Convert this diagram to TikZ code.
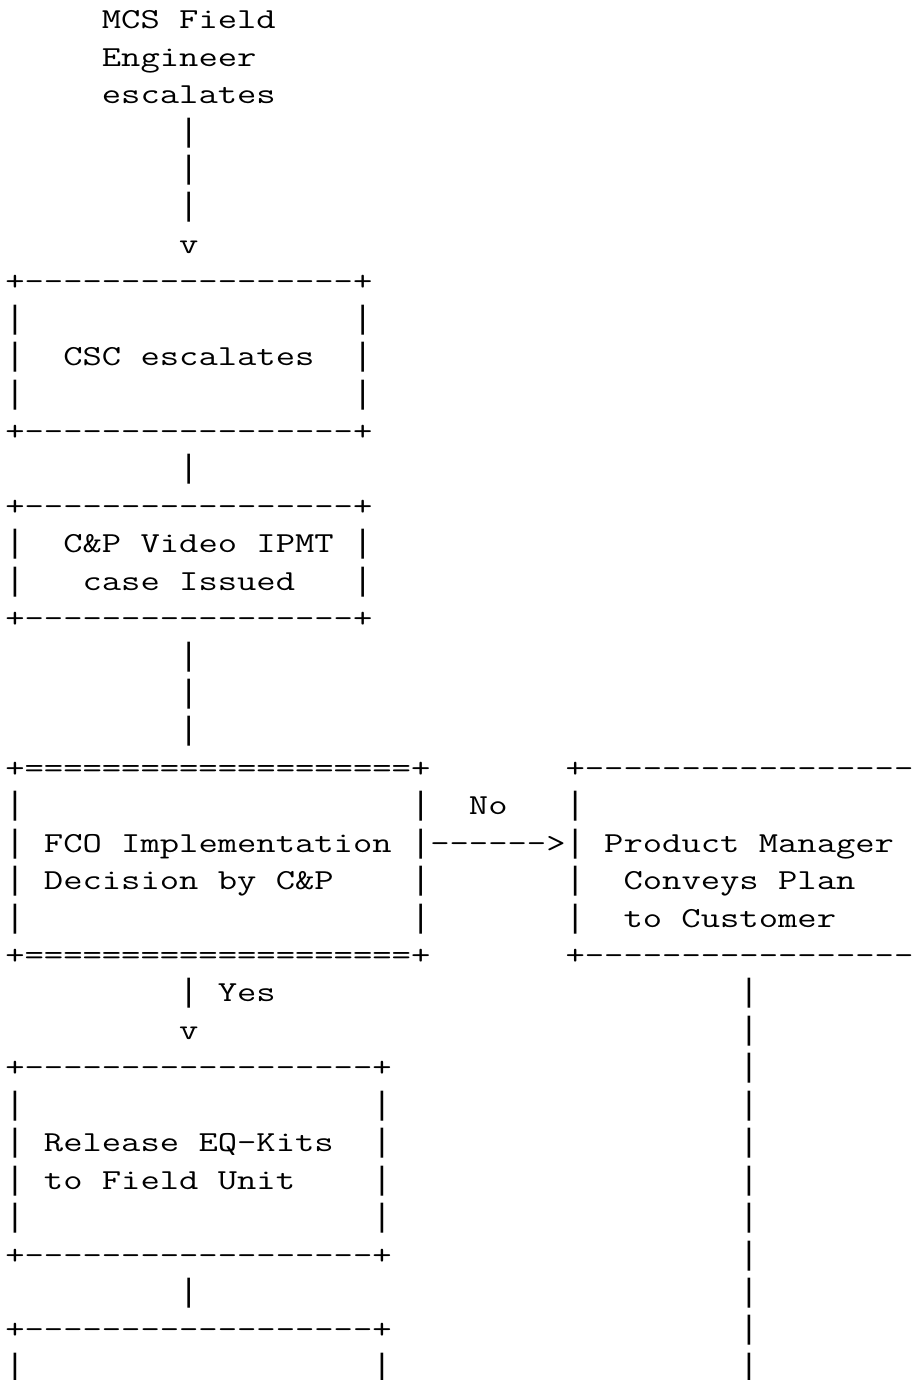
\documentclass[tikz,border=0pt]{standalone}
\usepackage{graphicx}
\usepackage{fontspec}
\newfontfamily\barfont{Liberation Mono}
\ExplSyntaxOn
\NewDocumentCommand\rp{mm}{\prg_replicate:nn{#1}{#2\kern0pt}}
\ExplSyntaxOff
\newsavebox\chbox
\tikzset{asc/.style={inner sep=0pt, outer sep=0pt, anchor=base west,
  font=\ttfamily\fontsize{29}{37}\selectfont, text=black},
  barc/.style={inner sep=0pt, outer sep=0pt, anchor=base west,
  font=\barfont\fontsize{32.2}{37}\selectfont, text=black}}
\newcommand\T[4]{\node[asc] (#1) at ({5.3+19.32*(#2)},{-28.8-37.43*(#3)}) {\scalebox{\xs}[1]{#4}};}
\newcommand\B[3]{\node[barc] (#1) at ({5.3+19.32*(#2)},{-28.8-37.43*(#3)}) {|};}
\begin{document}
\sbox\chbox{\ttfamily\fontsize{29}{37}\selectfont M}%
\pgfmathsetmacro\xs{19.32/\the\wd\chbox}%
\begin{tikzpicture}[x=1pt,y=1pt]
\useasboundingbox (0,0) rectangle (918,-1380);
\clip (0,0) rectangle (918,-1380);
% top label
\T{t0}{5}{0}{MCS Field}
\T{t1}{5}{1}{Engineer}
\T{t2}{5}{2}{escalates}
\foreach \r in {3,4,5} {\B{p\r}{9}{\r}}
\T{v6}{9}{6}{v}
% CSC box
\T{b7}{0}{7}{+\rp{17}{-}+}
\foreach \r in {8,9,10} {\B{l\r}{0}{\r}\B{r\r}{18}{\r}}
\T{csc}{3}{9}{CSC escalates}
\T{b11}{0}{11}{+\rp{17}{-}+}
\B{p12}{9}{12}
% C&P box
\T{b13}{0}{13}{+\rp{17}{-}+}
\foreach \r in {14,15} {\B{l\r}{0}{\r}\B{r\r}{18}{\r}}
\T{cp1}{3}{14}{C\&P Video IPMT}
\T{cp2}{4}{15}{case Issued}
\T{b16}{0}{16}{+\rp{17}{-}+}
\foreach \r in {17,18,19} {\B{p\r}{9}{\r}}
% FCO decision box and PM box
\T{b20}{0}{20}{+\rp{20}{=}+}
\T{c20}{29}{20}{+\rp{17}{-}}
\foreach \r in {21,...,24} {\B{l\r}{0}{\r}\B{r\r}{21}{\r}\B{m\r}{29}{\r}}
\T{no}{24}{21}{No}
\T{fco1}{2}{22}{FCO Implementation}
\T{arr}{22}{22}{\rp{6}{-}>}
\T{pm1}{31}{22}{Product Manager}
\T{fco2}{2}{23}{Decision by C\&P}
\T{pm2}{32}{23}{Conveys Plan}
\T{pm3}{32}{24}{to Customer}
\T{b25}{0}{25}{+\rp{20}{=}+}
\T{c25}{29}{25}{+\rp{17}{-}}
% Yes branch
\B{p26}{9}{26}
\T{yes}{11}{26}{Yes}
\T{v27}{9}{27}{v}
\foreach \r in {26,...,36} {\B{q\r}{38}{\r}}
% Release box
\T{b28}{0}{28}{+\rp{18}{-}+}
\foreach \r in {29,...,32} {\B{l\r}{0}{\r}\B{r\r}{19}{\r}}
\T{rel1}{2}{30}{Release EQ-Kits}
\T{rel2}{2}{31}{to Field Unit}
\T{b33}{0}{33}{+\rp{18}{-}+}
\B{p34}{9}{34}
\T{b35}{0}{35}{+\rp{18}{-}+}
\B{l36}{0}{36}
\B{r36}{19}{36}
\end{tikzpicture}
\end{document}
